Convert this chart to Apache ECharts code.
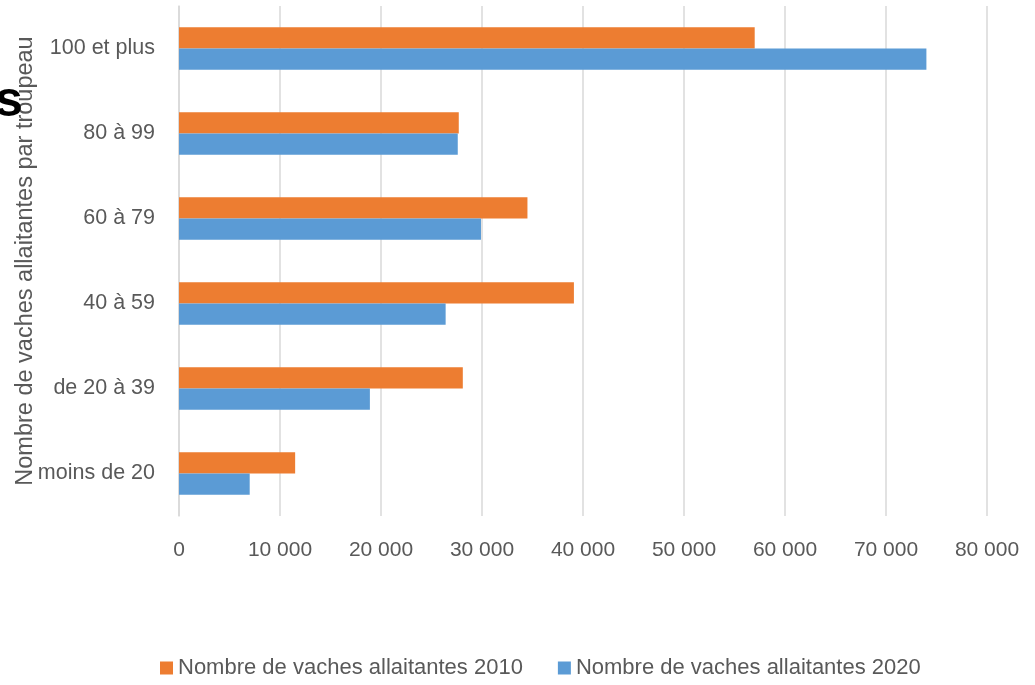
<!DOCTYPE html>
<html><head><meta charset="utf-8">
<script src="https://cdn.jsdelivr.net/npm/echarts@6/dist/echarts.min.js"></script>
<style>html,body{margin:0;padding:0;background:#fff}#c{width:1035px;height:685px}</style>
</head><body><div id="c"></div>
<script>
const categories = ['moins de 20', 'de 20 à 39', '40 à 59', '60 à 79', '80 à 99', '100 et plus'];
const values2010 = [11500, 28100, 39100, 34500, 27700, 57000];
const values2020 = [7000, 18900, 26400, 29900, 27600, 74000];
const seriesNames = ['Nombre de vaches allaitantes 2010', 'Nombre de vaches allaitantes 2020'];
const axisName = 'Nombre de vaches allaitantes par troupeau';
const titleFragment = 's';

const fmt = v => v === 0 ? '0' : String(v).replace(/\B(?=(\d{3})+(?!\d))/g, ' ');
const font = '"Liberation Sans", Arial, sans-serif';
const chart = echarts.init(document.getElementById('c'), null, {renderer: 'canvas'});
chart.setOption({
  animation: false,
  backgroundColor: '#fff',
  grid: {left: 179, right: 48, top: 6, bottom: 169, containLabel: false, outerBoundsMode: 'none'},
  legend: {
    bottom: 1, left: 155, itemWidth: 13, itemHeight: 13, itemGap: 35,
    icon: 'rect',
    textStyle: {color: '#595959', fontSize: 22, fontFamily: font},
    data: seriesNames
  },
  xAxis: {
    type: 'value', min: 0, max: 80000, interval: 10000,
    axisLine: {show: false}, axisTick: {show: false},
    splitLine: {lineStyle: {color: '#d9d9d9', width: 1.5}},
    axisLabel: {color: '#595959', fontSize: 21, fontFamily: font, margin: 24, formatter: fmt}
  },
  yAxis: {
    type: 'category', data: categories,
    name: axisName, nameLocation: 'middle', nameGap: 141, nameMoveOverlap: false,
    nameTextStyle: {color: '#595959', fontSize: 23.5, fontFamily: font},
    axisLine: {show: true, lineStyle: {color: '#d9d9d9', width: 1.5}},
    axisTick: {show: false},
    axisLabel: {color: '#595959', fontSize: 21.5, fontFamily: font, margin: 24}
  },
  series: [
    {name: seriesNames[0], type: 'bar', data: values2010, barGap: '0%', barCategoryGap: '50%',
     itemStyle: {color: '#ED7D31'}},
    {name: seriesNames[1], type: 'bar', data: values2020, barGap: '0%', barCategoryGap: '50%',
     itemStyle: {color: '#5B9BD5'}}
  ],
  graphic: [{
    type: 'text', left: -5, top: 77, z: 100,
    style: {text: titleFragment, font: 'bold 50px "Liberation Sans", Arial, sans-serif', fill: '#000'}
  }]
});
</script></body></html>
